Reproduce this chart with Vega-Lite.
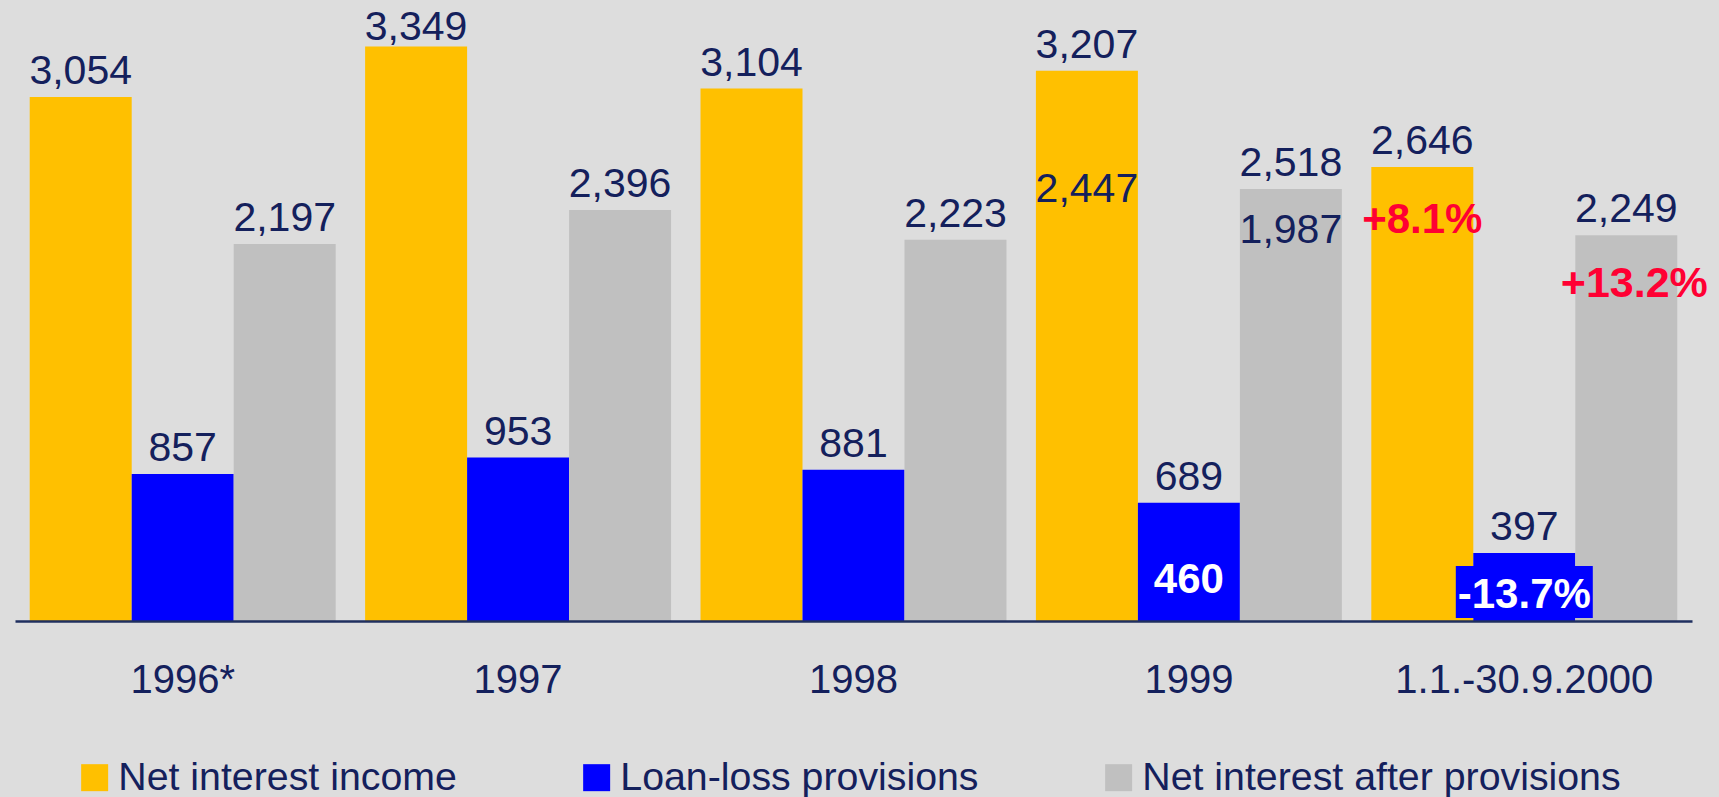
{
  "$schema": "https://vega.github.io/schema/vega-lite/v6.json",
  "width": 1677,
  "height": 621,
  "autosize": {"type": "none"},
  "padding": {"left": 15, "top": 0, "right": 27, "bottom": 176},
  "background": "#dddddd",
  "config": {"view": {"stroke": null}, "font": "Liberation Sans"},
  "datasets": {
    "main": [
      {"period": "1996*", "series": "Net interest income", "value": 3054},
      {"period": "1996*", "series": "Loan-loss provisions", "value": 857},
      {"period": "1996*", "series": "Net interest after provisions", "value": 2197},
      {"period": "1997", "series": "Net interest income", "value": 3349},
      {"period": "1997", "series": "Loan-loss provisions", "value": 953},
      {"period": "1997", "series": "Net interest after provisions", "value": 2396},
      {"period": "1998", "series": "Net interest income", "value": 3104},
      {"period": "1998", "series": "Loan-loss provisions", "value": 881},
      {"period": "1998", "series": "Net interest after provisions", "value": 2223},
      {"period": "1999", "series": "Net interest income", "value": 3207},
      {"period": "1999", "series": "Loan-loss provisions", "value": 689},
      {"period": "1999", "series": "Net interest after provisions", "value": 2518},
      {"period": "1.1.-30.9.2000", "series": "Net interest income", "value": 2646},
      {"period": "1.1.-30.9.2000", "series": "Loan-loss provisions", "value": 397},
      {"period": "1.1.-30.9.2000", "series": "Net interest after provisions", "value": 2249}
    ],
    "box": [
      {"period": "1.1.-30.9.2000", "series": "Loan-loss provisions", "lo": 17, "hi": 321}
    ],
    "navyNotes": [
      {"period": "1999", "series": "Net interest income", "value": 2443, "label": "2,447"},
      {"period": "1999", "series": "Net interest after provisions", "value": 2204, "label": "1,987"}
    ],
    "redNotes": [
      {"period": "1.1.-30.9.2000", "series": "Net interest income", "value": 2261, "label": "+8.1%"},
      {"period": "1.1.-30.9.2000", "series": "Net interest after provisions", "value": 1891, "label": "+13.2%"}
    ],
    "whiteNotes": [
      {"period": "1999", "series": "Loan-loss provisions", "value": 162, "label": "460"},
      {"period": "1.1.-30.9.2000", "series": "Loan-loss provisions", "value": 74, "label": "-13.7%"}
    ]
  },
  "encoding": {
    "x": {
      "field": "period", "type": "nominal", "title": null,
      "scale": {"domain": ["1996*", "1997", "1998", "1999", "1.1.-30.9.2000"], "paddingInner": 0.0877, "paddingOuter": 0.04385},
      "axis": {
        "orient": "bottom", "title": null, "domain": true, "domainColor": "#1f2f5f", "domainWidth": 2.5,
        "ticks": false, "tickSize": 0, "grid": false, "labelAngle": 0,
        "labelFontSize": 40, "labelColor": "#14205c", "labelFont": "Liberation Sans",
        "labelPadding": 71, "labelBaseline": "alphabetic", "labelLimit": 0, "labelOverlap": false, "zindex": 1
      }
    },
    "xOffset": {
      "field": "series", "type": "nominal",
      "scale": {"domain": ["Net interest income", "Loan-loss provisions", "Net interest after provisions"], "paddingInner": 0, "paddingOuter": 0}
    },
    "y": {
      "field": "value", "type": "quantitative", "title": null,
      "scale": {"domain": [0, 3620], "nice": false, "zero": true},
      "axis": null
    }
  },
  "layer": [
    {
      "data": {"name": "main"},
      "mark": {"type": "bar"},
      "encoding": {
        "color": {
          "field": "series", "type": "nominal",
          "scale": {"domain": ["Net interest income", "Loan-loss provisions", "Net interest after provisions"], "range": ["#ffc000", "#0000ff", "#c0c0c0"]},
          "legend": {
            "title": null, "orient": "none", "direction": "horizontal",
            "legendX": 60, "legendY": 758, "padding": 0,
            "symbolType": "square", "symbolSize": 729, "symbolStrokeWidth": 0, "symbolOpacity": 1,
            "labelFontSize": 39.3, "labelColor": "#14205c", "labelFont": "Liberation Sans",
            "labelOffset": 4, "columnPadding": 120, "labelLimit": 1000
          }
        }
      }
    },
    {
      "data": {"name": "box"},
      "mark": {"type": "bar", "width": 137, "color": "#0000ff"},
      "encoding": {
        "y": {"field": "lo", "type": "quantitative"},
        "y2": {"field": "hi"}
      }
    },
    {
      "data": {"name": "main"},
      "transform": [{"filter": "datum.value < 3300"}],
      "mark": {"type": "text", "baseline": "alphabetic", "dy": -13, "fontSize": 41, "color": "#14205c", "font": "Liberation Sans"},
      "encoding": {
        "text": {"field": "value", "type": "quantitative", "format": ","}
      }
    },
    {
      "data": {"name": "main"},
      "transform": [{"filter": "datum.value >= 3300"}],
      "mark": {"type": "text", "baseline": "alphabetic", "dy": -6, "fontSize": 41, "color": "#14205c", "font": "Liberation Sans"},
      "encoding": {
        "text": {"field": "value", "type": "quantitative", "format": ","}
      }
    },
    {
      "data": {"name": "navyNotes"},
      "mark": {"type": "text", "baseline": "alphabetic", "fontSize": 41, "color": "#14205c", "font": "Liberation Sans"},
      "encoding": {"text": {"field": "label", "type": "nominal"}}
    },
    {
      "data": {"name": "redNotes"},
      "transform": [{"filter": "datum.series == 'Net interest income'"}],
      "mark": {"type": "text", "baseline": "alphabetic", "fontSize": 42, "fontWeight": "bold", "color": "#ff0033", "font": "Liberation Sans"},
      "encoding": {"text": {"field": "label", "type": "nominal"}}
    },
    {
      "data": {"name": "redNotes"},
      "transform": [{"filter": "datum.series != 'Net interest income'"}],
      "mark": {"type": "text", "baseline": "alphabetic", "dx": 8, "fontSize": 43, "fontWeight": "bold", "color": "#ff0033", "font": "Liberation Sans"},
      "encoding": {"text": {"field": "label", "type": "nominal"}}
    },
    {
      "data": {"name": "whiteNotes"},
      "mark": {"type": "text", "baseline": "alphabetic", "fontSize": 42, "fontWeight": "bold", "color": "#ffffff", "font": "Liberation Sans"},
      "encoding": {"text": {"field": "label", "type": "nominal"}}
    }
  ]
}
